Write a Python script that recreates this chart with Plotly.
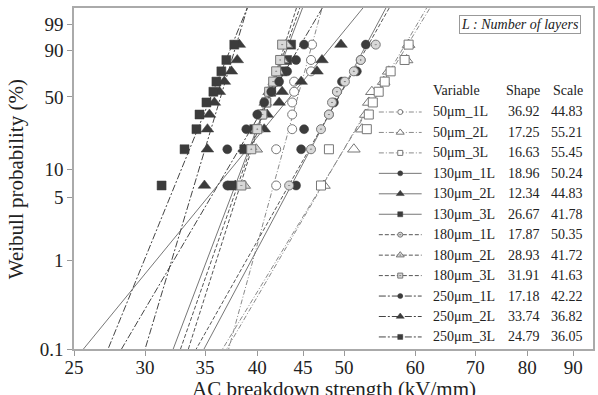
import numpy as np
import plotly.graph_objects as go

# ---------------- data ----------------
variables = ["50μm_1L", "50μm_2L", "50μm_3L",
             "130μm_1L", "130μm_2L", "130μm_3L",
             "180μm_1L", "180μm_2L", "180μm_3L",
             "250μm_1L", "250μm_2L", "250μm_3L"]
shape = [36.92, 17.25, 16.63, 18.96, 12.34, 26.67, 17.87, 28.93, 31.91, 17.18, 33.74, 24.79]
scale = [44.83, 55.21, 55.45, 50.24, 44.83, 41.78, 50.35, 41.72, 41.63, 42.22, 36.82, 36.05]

# plotting positions (%), same for every series (10 specimens each)
prob_pct = [6.73, 16.35, 25.96, 35.58, 45.19, 54.81, 64.42, 74.04, 83.65, 93.27]

s50_1L = [42.00, 42.00, 43.76, 43.76, 43.76, 43.98, 43.98, 45.93, 45.93, 46.05]
s50_2L = [47.48, 51.27, 52.33, 52.86, 53.27, 53.69, 55.35, 56.06, 58.70, 59.00]
s50_3L = [47.12, 48.09, 53.00, 53.27, 53.82, 54.64, 55.49, 56.34, 58.40, 59.00]
s130_1L = [44.20, 44.78, 45.12, 48.09, 48.71, 49.09, 49.72, 51.66, 52.18, 52.86]
s130_2L = [37.82, 38.70, 40.73, 41.04, 42.32, 42.65, 44.78, 46.64, 47.24, 49.60]
s130_3L = [37.44, 38.70, 39.70, 40.42, 40.94, 41.47, 42.11, 42.65, 43.20, 43.64]
s180_1L = [43.42, 45.93, 47.12, 48.09, 48.47, 49.09, 50.10, 51.27, 52.18, 54.23]
s180_2L = [38.70, 39.91, 40.01, 40.42, 40.84, 41.25, 41.79, 42.21, 42.65, 43.09]
s180_3L = [38.41, 39.40, 40.01, 40.53, 40.94, 41.25, 41.68, 42.00, 42.43, 42.65]
s250_1L = [37.05, 37.05, 38.90, 40.01, 40.73, 41.47, 42.32, 43.20, 44.20, 45.12]
s250_2L = [34.94, 35.21, 35.21, 35.39, 35.84, 36.30, 36.77, 37.44, 38.01, 38.21]
s250_3L = [31.30, 33.20, 34.23, 34.50, 35.12, 35.75, 36.03, 36.49, 36.96, 37.72]
series = [s50_1L, s50_2L, s50_3L, s130_1L, s130_2L, s130_3L,
          s180_1L, s180_2L, s180_3L, s250_1L, s250_2L, s250_3L]

y_tick_pct = [0.1, 1, 5, 10, 50, 90, 99]
x_ticks = [25, 30, 35, 40, 45, 50, 60, 70, 80, 90]

# ---------------- styles ----------------
FONT = "Liberation Serif, Times New Roman, serif"
DARK = "#3c3c3c"
symbols_base = ["circle", "triangle-up", "square"]


def style(i):
    grp, k = divmod(i, 3)
    sym = symbols_base[k]
    if grp == 0:    # 50 um: open markers, fine dash-dot grey line
        return dict(symbol=sym, color="white", lcolor="#777", lw=1.0,
                    line=dict(color="#8a8a8a", width=1, dash="5px,2px,1px,2px"))
    if grp == 1:    # 130 um: filled, solid
        return dict(symbol=sym, color=DARK, lcolor=DARK, lw=0.5,
                    line=dict(color="#777", width=1, dash="solid"))
    if grp == 2:    # 180 um: dotted markers, dashed
        return dict(symbol=sym + "-dot", color="#d8d8d8", lcolor="#777", lw=1.0,
                    line=dict(color="#555", width=1, dash="4px,2px"))
    return dict(symbol=sym, color=DARK, lcolor=DARK, lw=0.5,   # 250 um
                line=dict(color="#444", width=1, dash="7px,2px,2px,2px"))


def wb(p_pct):
    p = np.asarray(p_pct, dtype=float) / 100.0
    return np.log(-np.log(1.0 - p))


msize = {"circle": 9, "triangle-up": 11, "square": 9}

fig = go.Figure()

# fitted Weibull lines (from shape / scale)
w_line = np.array([-7.5, 2.5])
for i in range(len(variables)):
    st = style(i)
    xl = scale[i] * np.exp(w_line / shape[i])
    fig.add_trace(go.Scatter(x=xl, y=w_line, mode="lines", line=st["line"],
                             showlegend=False, hoverinfo="skip"))

# data points
yw = wb(prob_pct)
for i in range(len(variables)):
    st = style(i)
    base = symbols_base[i % 3]
    fig.add_trace(go.Scatter(
        x=series[i], y=yw, mode="markers", name=variables[i], showlegend=False,
        marker=dict(symbol=st["symbol"], size=msize[base], color=st["color"],
                    line=dict(color=st["lcolor"], width=st["lw"]))))

# ---------------- legend table (hidden overlay axes, pixel-based) ----------------
L, R, T, B = 74, 595, 8, 349
PW, PH = R - L, B - T


def px_x(px):
    return (px - L) / PW


def px_y(py):
    return (B - py) / PH


row_y = [112 + i * 20.45 for i in range(12)]
for i in range(len(variables)):
    st = style(i)
    base = symbols_base[i % 3]
    yy = px_y(row_y[i])
    fig.add_trace(go.Scatter(x=[px_x(380), px_x(423)], y=[yy, yy], mode="lines",
                             line=st["line"], xaxis="x2", yaxis="y2",
                             showlegend=False, hoverinfo="skip"))
    fig.add_trace(go.Scatter(x=[px_x(401.5)], y=[yy], mode="markers",
                             marker=dict(symbol=st["symbol"], size=msize[base] - 4,
                                         color=st["color"],
                                         line=dict(color=st["lcolor"], width=st["lw"])),
                             xaxis="x2", yaxis="y2", showlegend=False, hoverinfo="skip"))

ann = []
tf = dict(family=FONT, size=14, color="#222")
ann.append(dict(x=px_x(432), y=px_y(90), text="Variable", xanchor="left", yanchor="middle",
                showarrow=False, xref="paper", yref="paper", font=tf))
ann.append(dict(x=px_x(544), y=px_y(90), text="Shape", xanchor="right", yanchor="middle",
                showarrow=False, xref="paper", yref="paper", font=tf))
ann.append(dict(x=px_x(587), y=px_y(90), text="Scale", xanchor="right", yanchor="middle",
                showarrow=False, xref="paper", yref="paper", font=tf))
for i in range(len(variables)):
    yy = px_y(row_y[i])
    ann.append(dict(x=px_x(432), y=yy, text=variables[i], xanchor="left", yanchor="middle",
                    showarrow=False, xref="paper", yref="paper", font=tf))
    ann.append(dict(x=px_x(544), y=yy, text=f"{shape[i]:.2f}", xanchor="right",
                    yanchor="middle", showarrow=False, xref="paper", yref="paper", font=tf))
    ann.append(dict(x=px_x(587), y=yy, text=f"{scale[i]:.2f}", xanchor="right",
                    yanchor="middle", showarrow=False, xref="paper", yref="paper", font=tf))

ann.append(dict(x=px_x(522), y=px_y(25), text="<i>L : Number of layers</i>",
                xanchor="center", yanchor="middle", showarrow=False, xref="paper",
                yref="paper", font=dict(family=FONT, size=14, color="#222"),
                bordercolor="#999", borderwidth=1, borderpad=1, bgcolor="white"))

# axis titles
ann.append(dict(x=px_x(335), y=px_y(389), text="AC breakdown strength (kV/mm)",
                xanchor="center", yanchor="middle", showarrow=False, xref="paper",
                yref="paper", font=dict(family=FONT, size=21, color="#222")))
ann.append(dict(x=px_x(16), y=px_y(179), text="Weibull probability (%)", textangle=-90,
                xanchor="center", yanchor="middle", showarrow=False, xref="paper",
                yref="paper", font=dict(family=FONT, size=21, color="#222")))

fig.update_layout(
    width=598, height=395,
    margin=dict(l=L, r=598 - R, t=T, b=395 - B),
    paper_bgcolor="white", plot_bgcolor="white",
    font=dict(family=FONT, size=18, color="#222"),
    annotations=ann,
    xaxis=dict(type="log", range=[np.log10(25), np.log10(94.7)],
               tickvals=x_ticks, ticktext=[str(v) for v in x_ticks],
               ticks="outside", ticklen=5, tickcolor="#999", showgrid=False,
               ticklabelstandoff=-5,
               zeroline=False, showline=True, linecolor="#aaa", linewidth=1.5,
               mirror=True, tickfont=dict(family=FONT, size=19, color="#222")),
    yaxis=dict(range=[float(wb(0.1)), 1.943],
               tickvals=list(wb(y_tick_pct)), ticktext=[f"{v:g}" for v in y_tick_pct],
               ticks="outside", ticklen=5, tickcolor="#999", showgrid=False,
               zeroline=False, showline=True, linecolor="#aaa", linewidth=1.5,
               mirror=True, tickfont=dict(family=FONT, size=19, color="#222")),
    xaxis2=dict(overlaying="x", range=[0, 1], visible=False, anchor="y2"),
    yaxis2=dict(overlaying="y", range=[0, 1], visible=False, anchor="x2"),
)

fig.write_html("out.html")
